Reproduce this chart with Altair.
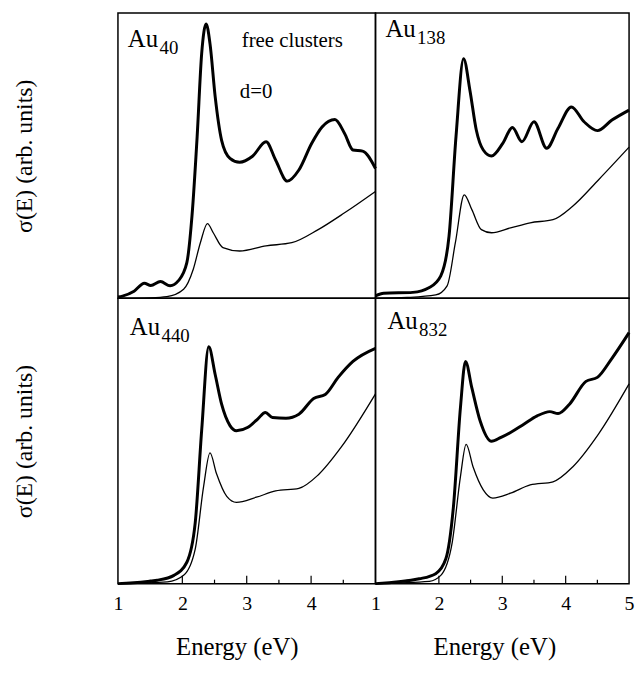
import altair as alt
import pandas as pd

FONT = "Liberation Serif"
WL, WR, H = 260, 256, 288

# tick labels
xlabels_left = [1, 2, 3, 4]
xlabels_right = [1, 2, 3, 4, 5]
major_ticks = [2, 3, 4]
minor_ticks = [1.5, 2.5, 3.5, 4.5]

# ---- Au40 (free clusters, d=0) ----
au40_thick_e = [1.0, 1.07, 1.25, 1.41, 1.51, 1.66, 1.81, 1.94, 2.07, 2.15, 2.23, 2.30, 2.37, 2.43, 2.51, 2.61,
                2.74, 2.89, 3.09, 3.30, 3.45, 3.63, 3.81, 4.01, 4.17, 4.37, 4.52, 4.65, 4.80, 5.0]
au40_thick_s = [0.5, 0.8, 2.5, 5.3, 4.5, 5.9, 4.4, 6.2, 12.5, 28.9, 56.7, 85.7, 96.2, 89.2, 70.7, 55.4,
                49.1, 47.7, 49.8, 54.9, 48.4, 41.1, 45.0, 54.4, 60.1, 62.7, 57.8, 52.0, 51.6, 45.5]
au40_thin_e = [1.0, 1.5, 1.76, 2.02, 2.17, 2.28, 2.39, 2.48, 2.63, 2.89, 3.30, 3.70, 4.11, 4.52, 5.0]
au40_thin_s = [0.0, 0.2, 0.6, 3.2, 10.2, 19.5, 26.2, 23.0, 17.8, 16.6, 18.4, 19.5, 24.1, 30.0, 37.5]

# ---- Au138 ----
au138_thick_e = [1.0, 1.13, 1.59, 1.85, 2.03, 2.16, 2.27, 2.39, 2.49, 2.59, 2.70, 2.83, 3.01, 3.16, 3.31,
                 3.50, 3.70, 3.88, 4.09, 4.29, 4.50, 4.73, 5.0]
au138_thick_s = [0.9, 1.8, 2.1, 3.8, 7.9, 21.8, 56.7, 84.0, 72.9, 59.0, 52.0, 49.9, 54.4, 59.9, 54.9,
                 61.9, 52.6, 59.6, 67.1, 61.9, 58.8, 62.5, 66.0]
au138_thin_e = [1.0, 1.5, 1.95, 2.13, 2.26, 2.40, 2.52, 2.67, 2.83, 3.13, 3.44, 3.80, 4.11, 4.52, 5.0]
au138_thin_s = [0.0, 0.3, 1.2, 4.4, 19.5, 36.3, 31.1, 24.1, 23.0, 24.7, 26.5, 27.6, 32.3, 41.6, 53.0]

# ---- Au440 ----
au440_thick_e = [1.0, 1.61, 1.87, 2.07, 2.20, 2.30, 2.41, 2.51, 2.61, 2.74, 2.84, 3.02, 3.17, 3.29, 3.40,
                 3.61, 3.81, 4.04, 4.22, 4.42, 4.65, 5.0]
au440_thick_s = [0.0, 1.2, 2.9, 7.5, 21.3, 53.6, 83.0, 73.3, 62.9, 55.4, 53.6, 54.8, 57.7, 60.0, 58.2,
                 58.0, 59.4, 64.9, 66.3, 72.3, 77.9, 82.5]
au440_thin_e = [1.0, 1.77, 2.02, 2.20, 2.33, 2.43, 2.53, 2.69, 2.84, 3.15, 3.45, 3.81, 4.11, 4.47, 5.0]
au440_thin_s = [0.0, 0.6, 2.9, 12.1, 34.0, 45.8, 38.6, 30.6, 28.5, 30.3, 32.5, 33.4, 38.1, 47.9, 66.5]

# ---- Au832 ----
au832_thick_e = [1.0, 1.69, 1.95, 2.11, 2.23, 2.34, 2.42, 2.52, 2.65, 2.83, 2.98, 3.13, 3.34, 3.55, 3.75,
                 3.88, 4.06, 4.32, 4.50, 4.73, 5.0]
au832_thick_s = [0.0, 1.7, 3.5, 8.7, 27.1, 61.7, 77.9, 68.6, 57.1, 49.9, 51.3, 53.0, 55.9, 58.8, 60.3,
                 59.6, 62.9, 70.9, 72.3, 79.0, 88.0]
au832_thin_e = [1.0, 1.85, 2.03, 2.21, 2.34, 2.43, 2.54, 2.70, 2.85, 3.13, 3.44, 3.80, 4.11, 4.52, 5.0]
au832_thin_s = [0.0, 0.8, 2.9, 14.4, 37.5, 48.8, 40.9, 32.9, 30.0, 31.7, 34.6, 35.7, 40.9, 52.5, 70.0]

xs = alt.Scale(domain=[1, 5], nice=False, zero=False)
ys = alt.Scale(domain=[0, 100], nice=False, zero=False)


def text_layer(txt, px, py, size):
    return alt.Chart(pd.DataFrame({"t": [txt]})).mark_text(
        font=FONT, fontSize=size, align="left", baseline="alphabetic", color="black"
    ).encode(text="t:N", x=alt.value(px), y=alt.value(py))


def panel(w, te, ts, ne, ns, label_main, label_sub, lx, ly, xaxis, yaxis, extra=None, ticks=False):
    xenc = alt.X("E:Q", scale=xs, axis=xaxis)
    yenc = alt.Y("S:Q", scale=ys, axis=yaxis)
    thick = alt.Chart(pd.DataFrame({"E": te, "S": ts})).mark_line(
        color="black", strokeWidth=3, interpolate="monotone"
    ).encode(x=xenc, y=yenc)
    thin = alt.Chart(pd.DataFrame({"E": ne, "S": ns})).mark_line(
        color="black", strokeWidth=1.3, interpolate="monotone"
    ).encode(x=xenc, y=yenc)
    layers = [thick, thin]
    if ticks:
        layers.append(alt.Chart(pd.DataFrame({"E": major_ticks})).mark_rule(
            color="black", strokeWidth=1.2).encode(x=xenc, y=alt.value(H), y2=alt.value(H - 8)))
        layers.append(alt.Chart(pd.DataFrame({"E": minor_ticks})).mark_rule(
            color="black", strokeWidth=1.2).encode(x=xenc, y=alt.value(H), y2=alt.value(H - 4)))
    layers.append(text_layer(label_main, lx, ly, 25))
    layers.append(text_layer(label_sub, lx + 32, ly + 7, 19))
    if extra:
        layers.extend(extra)
    return alt.layer(*layers).properties(width=w, height=H)


def x_axis(vals):
    return alt.Axis(values=vals, format="d", ticks=False, domain=False, grid=False,
                    labelFont=FONT, labelFontSize=20, labelColor="black", labelPadding=10,
                    labelFlush=False, labelOverlap=False,
                    title="Energy (eV)", titleFont=FONT, titleFontSize=25, titleFontWeight="normal",
                    titleColor="black", titlePadding=22, titleX=120)


y_axis = alt.Axis(labels=False, ticks=False, domain=False, grid=False,
                  title="σ(E) (arb. units)", titleFont=FONT, titleFontSize=24,
                  titleFontWeight="normal", titleColor="black", titlePadding=82)

tl = panel(WL, au40_thick_e, au40_thick_s, au40_thin_e, au40_thin_s, "Au", "40", 10, 34,
           None, y_axis,
           extra=[text_layer("free clusters", 125, 34, 21), text_layer("d=0", 123, 86, 21)])
tr = panel(WR, au138_thick_e, au138_thick_s, au138_thin_e, au138_thin_s, "Au", "138", 10, 24,
           None, None)
bl = panel(WL, au440_thick_e, au440_thick_s, au440_thin_e, au440_thin_s, "Au", "440", 12, 37,
           x_axis(xlabels_left), y_axis, ticks=True)
br = panel(WR, au832_thick_e, au832_thick_s, au832_thin_e, au832_thin_s, "Au", "832", 12, 31,
           x_axis(xlabels_right), None, ticks=True)

chart = alt.concat(
    tl, tr, bl, br, columns=2, spacing=0, bounds="flush"
).properties(
    padding={"left": 4, "top": 1, "right": 0, "bottom": 0}
).configure(
    background="white",
    view=alt.ViewConfig(stroke="black", strokeWidth=1.5),
    concat=alt.CompositionConfig(spacing=0),
)

chart.save("out.html", embed_options={"renderer": "svg", "actions": False})
